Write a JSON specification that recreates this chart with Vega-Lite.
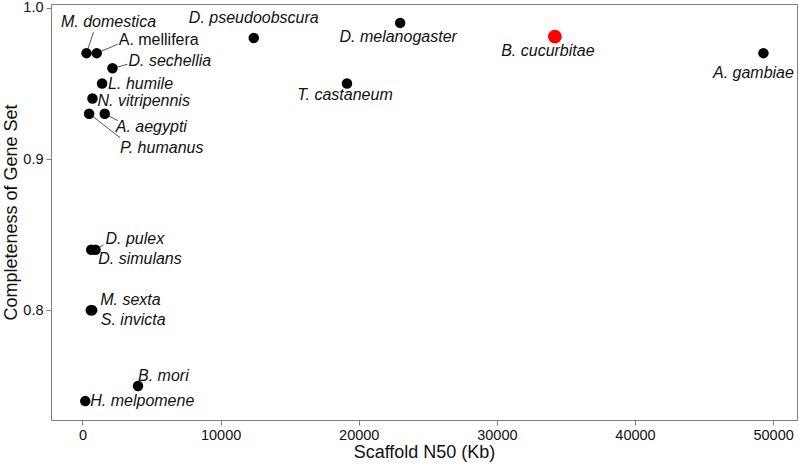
{
  "$schema": "https://vega.github.io/schema/vega-lite/v6.json",
  "width": 746,
  "height": 416,
  "autosize": "none",
  "padding": {"left": 51, "top": 4, "right": 2, "bottom": 45},
  "background": "white",
  "config": {
    "view": {"stroke": "#7f7f7f", "strokeWidth": 1},
    "font": "Liberation Sans",
    "axis": {"domain": false, "grid": false, "tickColor": "#7f7f7f", "tickSize": 5, "labelFontSize": 14.5, "labelColor": "#111", "titleFontSize": 18, "titleFontWeight": "normal", "titleColor": "#111"},
    "text": {"font": "Liberation Sans", "fontSize": 16, "fontStyle": "italic", "color": "#111", "baseline": "middle"}
  },
  "data": {"values": [
    {"name": "M. domestica", "n50": 290, "comp": 0.97},
    {"name": "A. mellifera", "n50": 1030, "comp": 0.97},
    {"name": "D. sechellia", "n50": 2170, "comp": 0.96},
    {"name": "L. humile", "n50": 1420, "comp": 0.95},
    {"name": "N. vitripennis", "n50": 720, "comp": 0.94},
    {"name": "P. humanus", "n50": 480, "comp": 0.93},
    {"name": "A. aegypti", "n50": 1610, "comp": 0.93},
    {"name": "D. pulex", "n50": 940, "comp": 0.84},
    {"name": "D. simulans", "n50": 630, "comp": 0.84},
    {"name": "M. sexta", "n50": 700, "comp": 0.80},
    {"name": "S. invicta", "n50": 600, "comp": 0.80},
    {"name": "B. mori", "n50": 4020, "comp": 0.75},
    {"name": "H. melpomene", "n50": 200, "comp": 0.74},
    {"name": "D. pseudoobscura", "n50": 12400, "comp": 0.98},
    {"name": "D. melanogaster", "n50": 23000, "comp": 0.99},
    {"name": "T. castaneum", "n50": 19150, "comp": 0.95},
    {"name": "B. cucurbitae", "n50": 34200, "comp": 0.981},
    {"name": "A. gambiae", "n50": 49300, "comp": 0.97}
  ]},
  "encoding": {
    "x": {"field": "n50", "type": "quantitative", "scale": {"domain": [-2280, 51730], "nice": false, "zero": false}, "axis": {"title": "Scaffold N50 (Kb)", "values": [0, 10000, 20000, 30000, 40000, 50000], "format": "d", "labelPadding": 3, "titlePadding": 2}},
    "y": {"field": "comp", "type": "quantitative", "scale": {"domain": [0.7275, 1.0025], "nice": false, "zero": false}, "axis": {"title": "Completeness of Gene Set", "values": [0.8, 0.9, 1.0], "format": ".1f", "labelPadding": 3, "titlePadding": 2}}
  },
  "layer": [
    {"transform": [{"filter": "datum.name === 'M. domestica'"}], "mark": {"type": "rule", "color": "#555", "strokeWidth": 1, "x2Offset": 7, "y2Offset": -21}, "encoding": {"x2": {"field": "n50"}, "y2": {"field": "comp"}}},
    {"transform": [{"filter": "datum.name === 'A. mellifera'"}], "mark": {"type": "rule", "color": "#555", "strokeWidth": 1, "x2Offset": 21, "y2Offset": -9}, "encoding": {"x2": {"field": "n50"}, "y2": {"field": "comp"}}},
    {"transform": [{"filter": "datum.name === 'D. sechellia'"}], "mark": {"type": "rule", "color": "#555", "strokeWidth": 1, "x2Offset": 15, "y2Offset": -4}, "encoding": {"x2": {"field": "n50"}, "y2": {"field": "comp"}}},
    {"transform": [{"filter": "datum.name === 'A. aegypti'"}], "mark": {"type": "rule", "color": "#555", "strokeWidth": 1, "x2Offset": 13, "y2Offset": 7}, "encoding": {"x2": {"field": "n50"}, "y2": {"field": "comp"}}},
    {"transform": [{"filter": "datum.name === 'P. humanus'"}], "mark": {"type": "rule", "color": "#555", "strokeWidth": 1, "x2Offset": 31, "y2Offset": 24}, "encoding": {"x2": {"field": "n50"}, "y2": {"field": "comp"}}},
    {"transform": [{"filter": "datum.name === 'D. pulex'"}], "mark": {"type": "rule", "color": "#555", "strokeWidth": 1, "x2Offset": 8, "y2Offset": -5}, "encoding": {"x2": {"field": "n50"}, "y2": {"field": "comp"}}},
    {"transform": [{"filter": "datum.name !== 'B. cucurbitae'"}], "mark": {"type": "circle", "opacity": 1, "color": "black", "size": 110}},
    {"transform": [{"filter": "datum.name === 'B. cucurbitae'"}], "mark": {"type": "circle", "opacity": 1, "color": "#ff0000", "size": 190}},
    {"transform": [{"filter": "datum.name === 'M. domestica'"}], "mark": {"type": "text", "align": "center", "dx": 22, "dy": -31}, "encoding": {"text": {"field": "name"}}},
    {"transform": [{"filter": "datum.name === 'A. mellifera'"}], "mark": {"type": "text", "align": "left", "dx": 22, "dy": -13, "fontStyle": "normal"}, "encoding": {"text": {"field": "name"}}},
    {"transform": [{"filter": "datum.name === 'D. sechellia'"}], "mark": {"type": "text", "align": "left", "dx": 16, "dy": -7}, "encoding": {"text": {"field": "name"}}},
    {"transform": [{"filter": "datum.name === 'L. humile'"}], "mark": {"type": "text", "align": "left", "dx": 6, "dy": 1}, "encoding": {"text": {"field": "name"}}},
    {"transform": [{"filter": "datum.name === 'N. vitripennis'"}], "mark": {"type": "text", "align": "left", "dx": 5, "dy": 2}, "encoding": {"text": {"field": "name"}}},
    {"transform": [{"filter": "datum.name === 'A. aegypti'"}], "mark": {"type": "text", "align": "left", "dx": 11, "dy": 13}, "encoding": {"text": {"field": "name"}}},
    {"transform": [{"filter": "datum.name === 'P. humanus'"}], "mark": {"type": "text", "align": "left", "dx": 31, "dy": 34}, "encoding": {"text": {"field": "name"}}},
    {"transform": [{"filter": "datum.name === 'D. pulex'"}], "mark": {"type": "text", "align": "left", "dx": 10, "dy": -11}, "encoding": {"text": {"field": "name"}}},
    {"transform": [{"filter": "datum.name === 'D. simulans'"}], "mark": {"type": "text", "align": "left", "dx": 7, "dy": 9}, "encoding": {"text": {"field": "name"}}},
    {"transform": [{"filter": "datum.name === 'M. sexta'"}], "mark": {"type": "text", "align": "left", "dx": 8, "dy": -10}, "encoding": {"text": {"field": "name"}}},
    {"transform": [{"filter": "datum.name === 'S. invicta'"}], "mark": {"type": "text", "align": "left", "dx": 10, "dy": 10}, "encoding": {"text": {"field": "name"}}},
    {"transform": [{"filter": "datum.name === 'B. mori'"}], "mark": {"type": "text", "align": "left", "dx": 0, "dy": -10}, "encoding": {"text": {"field": "name"}}},
    {"transform": [{"filter": "datum.name === 'H. melpomene'"}], "mark": {"type": "text", "align": "left", "dx": 5, "dy": 0}, "encoding": {"text": {"field": "name"}}},
    {"transform": [{"filter": "datum.name === 'D. pseudoobscura'"}], "mark": {"type": "text", "align": "center", "dx": 0, "dy": -20}, "encoding": {"text": {"field": "name"}}},
    {"transform": [{"filter": "datum.name === 'D. melanogaster'"}], "mark": {"type": "text", "align": "center", "dx": -2, "dy": 14}, "encoding": {"text": {"field": "name"}}},
    {"transform": [{"filter": "datum.name === 'T. castaneum'"}], "mark": {"type": "text", "align": "center", "dx": -2, "dy": 12}, "encoding": {"text": {"field": "name"}}},
    {"transform": [{"filter": "datum.name === 'B. cucurbitae'"}], "mark": {"type": "text", "align": "center", "dx": -7, "dy": 14}, "encoding": {"text": {"field": "name"}}},
    {"transform": [{"filter": "datum.name === 'A. gambiae'"}], "mark": {"type": "text", "align": "center", "dx": -10, "dy": 20}, "encoding": {"text": {"field": "name"}}}
  ]
}
